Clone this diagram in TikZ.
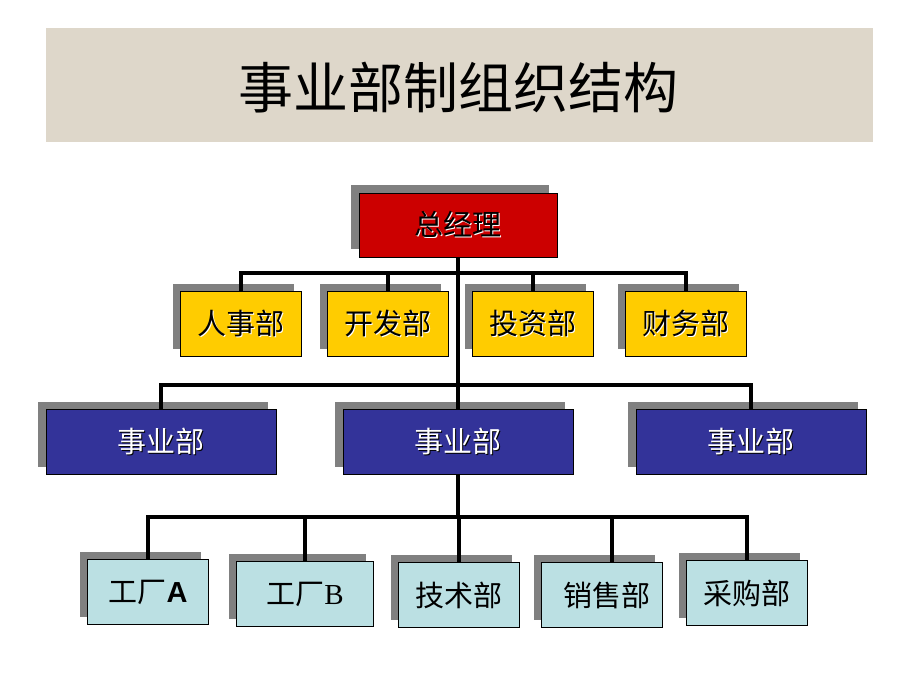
\documentclass[tikz,border=0pt]{standalone}
\usepackage{fontspec}
\setmainfont{Noto Sans CJK SC}
\newfontfamily\latinserif{Liberation Serif}
\newfontfamily\latinsans{Liberation Sans}
\usetikzlibrary{shadows}
\definecolor{bandbg}{RGB}{222,215,202}
\definecolor{topred}{RGB}{204,0,0}
\definecolor{staffyellow}{RGB}{255,204,0}
\definecolor{divblue}{RGB}{51,51,153}
\definecolor{unitcyan}{RGB}{187,224,227}
\definecolor{shadowgray}{RGB}{128,128,128}
\newcommand{\embossed}[3]{\makebox[0pt][l]{\kern1.3pt\raisebox{-1.3pt}{\color{#1}#3}}{\color{#2}#3}}

\begin{document}
\begin{tikzpicture}[x=1pt,y=-1pt,
  box/.style={draw=black, line width=0.8pt, inner sep=0pt, minimum height=65pt,
    font=\fontsize{29}{29}\selectfont,
    general shadow={shadow xshift=-8pt, shadow yshift=8pt, fill=shadowgray}},
  gmbox/.style={box, fill=topred, minimum width=198pt, minimum height=64pt},
  staffbox/.style={box, fill=staffyellow, minimum width=121pt},
  divbox/.style={box, fill=divblue, minimum width=230pt},
  unitbox/.style={box, fill=unitcyan, minimum width=121pt},
  link/.style={line width=3.5pt}]
\useasboundingbox (0,0) rectangle (920,690);
\fill [bandbg] (46,28) rectangle (873,142);
\node (title) at (458,88) [font=\fontsize{55}{55}\selectfont] {事业部制组织结构};
\node (gm) at (458,225) [gmbox] {\embossed{white}{black}{总经理}};
\node (hr) at (241,324) [staffbox] {\embossed{white}{black}{人事部}};
\node (dev) at (388,324) [staffbox] {\embossed{white}{black}{开发部}};
\node (inv) at (533,324) [staffbox] {\embossed{white}{black}{投资部}};
\node (fin) at (686,324) [staffbox] {\embossed{white}{black}{财务部}};
\node (divL) at (161,442) [divbox] {\embossed{black}{white}{事业部}};
\node (divM) at (458,442) [divbox] {\embossed{black}{white}{事业部}};
\node (divR) at (751,442) [divbox] {\embossed{black}{white}{事业部}};
\node (fA) at (148,592) [unitbox] {工厂{\latinsans\bfseries A}};
\node (fB) at (305,594) [unitbox, minimum width=137pt] {工厂{\latinserif B}};
\node (tech) at (459,595) [unitbox] {技术部};
\node (sales) at (602,595) [unitbox] {\hspace{10pt}销售部};
\node (buy) at (747,593) [unitbox] {采购部};
\coordinate (busA) at (458,273);
\coordinate (busB) at (458,385);
\coordinate (busC) at (458,517);
\draw [link] (gm.south) -- (divM.north);
\draw [link] (hr.north) |- (busA) -| (fin.north);
\draw [link] (dev.north) -- (dev.north |- busA);
\draw [link] (inv.north) -- (inv.north |- busA);
\draw [link] (divL.north) |- (busB) -| (divR.north);
\draw [link] (divM.south) -- (busC);
\draw [link] (fA.north) |- (busC) -| (buy.north);
\draw [link] (fB.north) -- (fB.north |- busC);
\draw [link] (tech.north) -- (tech.north |- busC);
\draw [link] ([xshift=10pt]sales.north) -- ([xshift=10pt]sales.north |- busC);
\end{tikzpicture}
\end{document}
